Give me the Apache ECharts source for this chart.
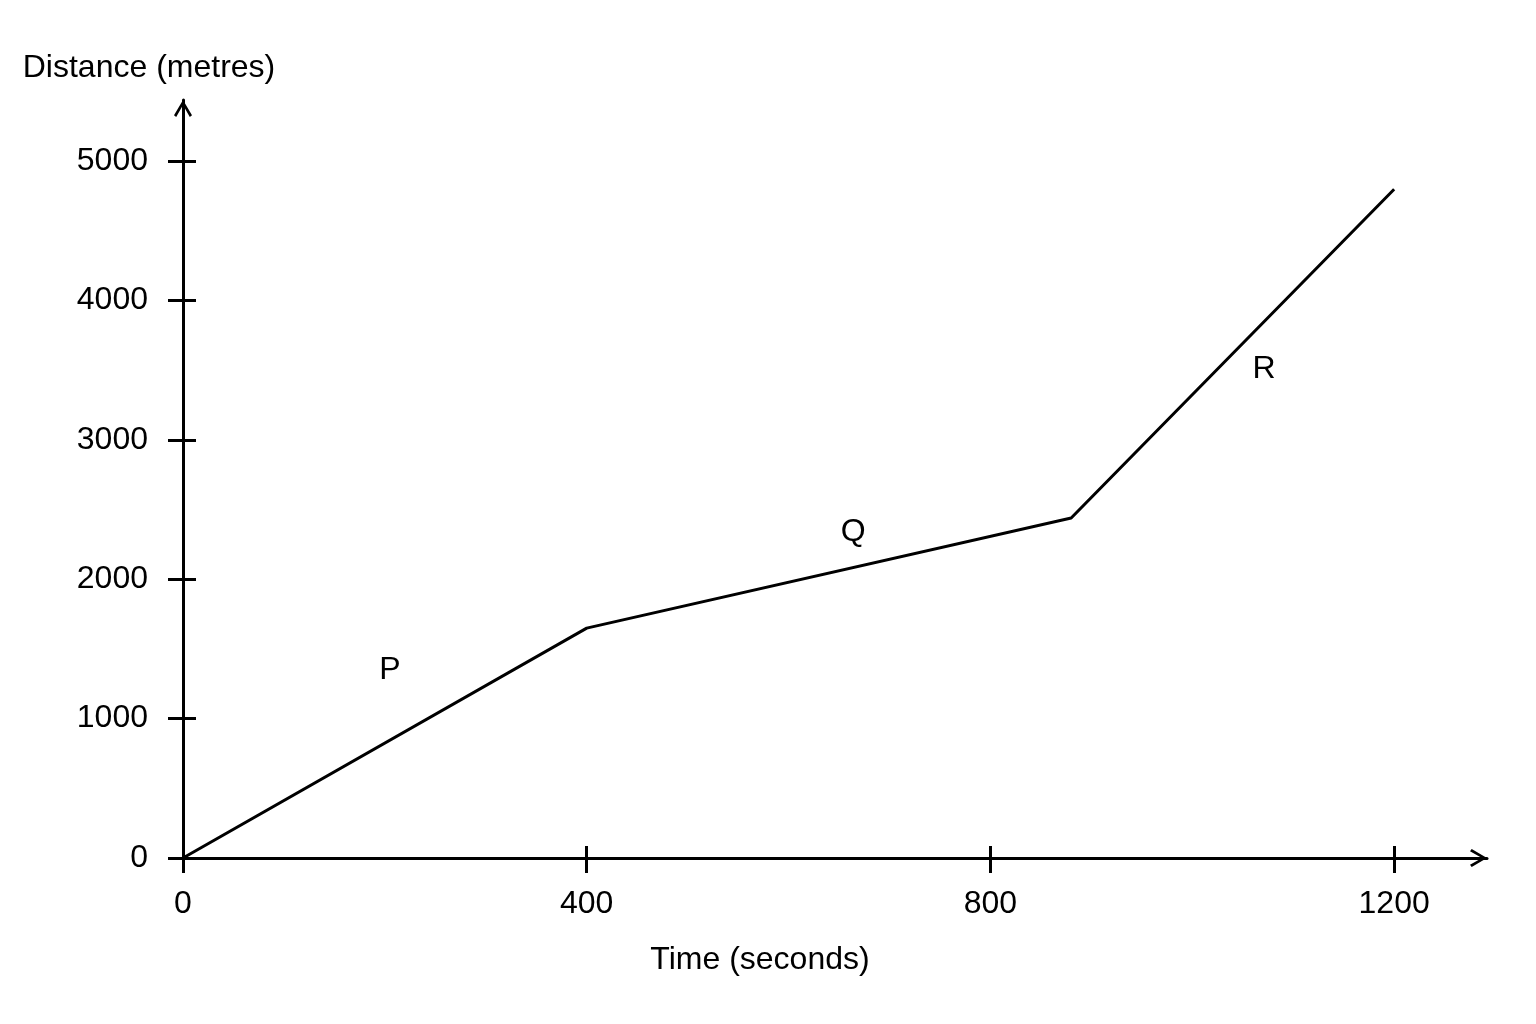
<!DOCTYPE html>
<html>
<head>
    <meta charset="utf-8">
    <title>Distance-time graph</title>
    <script src="https://cdn.jsdelivr.net/npm/echarts@6.0.0/dist/echarts.min.js"></script>
    <style>
        html, body{
            margin: 0;
            padding: 0;
            background: #fff;
        }
        #chart{
            width: 1536px;
            height: 1024px;
        }
    </style>
</head>
<body>
    <div id="chart"></div>

    <script type="text/javascript">
    // data
    var timeValues = [0, 400, 880, 1200];
    var distanceValues = [0, 1650, 2440, 4800];

    var xTicks = [0, 400, 800, 1200];
    var yTicks = [0, 1000, 2000, 3000, 4000, 5000];

    // section labels P, Q, R
    var sectionNames = ['P', 'Q', 'R'];
    var sectionX = [205, 664, 1071];
    var sectionY = [1345, 2340, 3507];

    var lineData = [];
    for (var i = 0; i < timeValues.length; i++) {
        lineData.push([timeValues[i], distanceValues[i]]);
    }
    var labelData = [];
    for (var j = 0; j < sectionNames.length; j++) {
        labelData.push({ value: [sectionX[j], sectionY[j]], name: sectionNames[j] });
    }

    var fontFamily = '"Liberation Sans", Arial, Helvetica, sans-serif';
    var black = '#000';
    // open chevron arrow head, pointing up (echarts rotates it)
    var arrowPath = 'path://M9,0 L18,15.3 L15.8,17 L9,5 L2.2,17 L0,15.3 Z';

    function plain(v) {
        return String(v);
    }

    var chart = echarts.init(document.getElementById('chart'));

    var option = {
        animation: false,
        backgroundColor: '#fff',
        grid: {
            left: 183,
            right: 49,
            top: 100,
            bottom: 166
        },
        xAxis: [
            {
                type: 'value',
                min: 0,
                max: 1292,
                name: 'Time (seconds)',
                nameLocation: 'middle',
                nameGap: 86,
                nameTextStyle: {
                    color: black,
                    fontSize: 32,
                    fontFamily: fontFamily,
                    padding: [0, 150, 0, 0]
                },
                splitLine: { show: false },
                axisLine: {
                    show: true,
                    symbol: ['none', arrowPath],
                    symbolSize: [18, 17],
                    symbolOffset: [0, -8.5],
                    lineStyle: { color: black, width: 3 }
                },
                axisTick: {
                    show: true,
                    length: 15,
                    customValues: xTicks,
                    lineStyle: { color: black, width: 3 }
                },
                axisLabel: {
                    customValues: xTicks,
                    formatter: plain,
                    color: black,
                    fontSize: 32,
                    fontFamily: fontFamily,
                    margin: 30
                }
            },
            {
                // second axis only to draw the upper half of the tick marks
                type: 'value',
                min: 0,
                max: 1292,
                position: 'bottom',
                splitLine: { show: false },
                axisLine: { show: false, onZero: true },
                axisTick: {
                    show: true,
                    inside: true,
                    length: 12,
                    customValues: xTicks,
                    lineStyle: { color: black, width: 3 }
                },
                axisLabel: { show: false }
            }
        ],
        yAxis: [
            {
                type: 'value',
                min: 0,
                max: 5440,
                name: 'Distance (metres)',
                nameLocation: 'end',
                nameGap: 16,
                nameTextStyle: {
                    color: black,
                    fontSize: 32,
                    fontFamily: fontFamily,
                    padding: [0, 68, 0, 0]
                },
                splitLine: { show: false },
                axisLine: {
                    show: true,
                    symbol: ['none', arrowPath],
                    symbolSize: [18, 17],
                    symbolOffset: [0, -8.5],
                    lineStyle: { color: black, width: 3 }
                },
                axisTick: {
                    show: true,
                    length: 15,
                    customValues: yTicks,
                    lineStyle: { color: black, width: 3 }
                },
                axisLabel: {
                    customValues: yTicks,
                    formatter: plain,
                    color: black,
                    fontSize: 32,
                    fontFamily: fontFamily,
                    margin: 35
                }
            },
            {
                type: 'value',
                min: 0,
                max: 5440,
                position: 'left',
                splitLine: { show: false },
                axisLine: { show: false, onZero: true },
                axisTick: {
                    show: true,
                    inside: true,
                    length: 13,
                    customValues: yTicks,
                    lineStyle: { color: black, width: 3 }
                },
                axisLabel: { show: false }
            }
        ],
        series: [
            {
                type: 'line',
                data: lineData,
                symbol: 'none',
                lineStyle: { color: black, width: 3 },
                z: 3
            },
            {
                type: 'scatter',
                data: labelData,
                symbolSize: 1,
                itemStyle: { color: 'rgba(0,0,0,0)', opacity: 1 },
                label: {
                    show: true,
                    position: 'inside',
                    formatter: '{b}',
                    color: black,
                    opacity: 1,
                    fontSize: 32,
                    fontFamily: fontFamily
                },
                z: 4
            }
        ]
    };

    chart.setOption(option);
    </script>
</body>
</html>
